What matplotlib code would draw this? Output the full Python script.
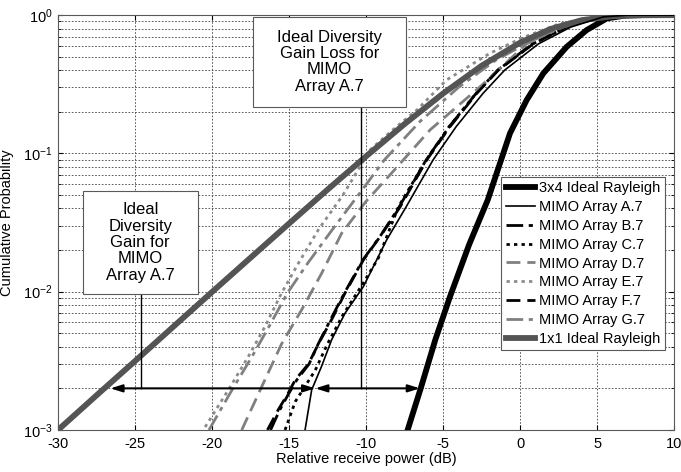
"""CDF of relative receive power for the MIMO arrays against ideal Rayleigh curves."""

import matplotlib

matplotlib.use("Agg")

import matplotlib.pyplot as plt
from matplotlib.patches import Rectangle


# values (x in dB, y as cumulative probability)
RAYLEIGH_1X1_X = [-30, -27.5, -25, -22.5, -20, -17.5, -15, -12.5, -10, -7.5, -5, -2.5, 0, 2, 4, 6, 8, 10]
RAYLEIGH_1X1_P = [0.0010, 0.00178, 0.00315, 0.0056, 0.00995, 0.0176, 0.0311, 0.0547, 0.0952,
                  0.163, 0.271, 0.430, 0.632, 0.795, 0.919, 0.981, 0.998, 1.0]

RAYLEIGH_3X4_X = [-7.3, -6.45, -5.5, -4.55, -3.3, -2.1, -0.65, 0.43, 1.51, 3.03, 4.33, 5.63, 6.9, 8, 10]
RAYLEIGH_3X4_P = [0.001, 0.002, 0.0045, 0.0092, 0.022, 0.046, 0.14, 0.243, 0.379, 0.59, 0.78,
                  0.946, 0.995, 1.0, 1.0]

A7_X = [-13.96, -13.53, -12.88, -12.23, -11.36, -10.17, -8.66, -7.4, -5.65, -4.15, -2.4, -1.0,
        1.2, 3.3, 5.4, 7.0, 10]
A7_P = [0.001, 0.00195, 0.0029, 0.0045, 0.007, 0.0109, 0.0237, 0.041, 0.0896, 0.156, 0.272,
        0.40, 0.62, 0.82, 0.97, 1.0, 1.0]

B7_X = [-16.2, -15.6, -15.0, -14.5, -13.7, -13.1, -12.3, -11.4, -10.2, -9.1, -7.85, -6.1, -4.6,
        -2.85, -1.45, 0.8, 3.0, 5.15, 7.0, 10]
B7_P = [0.001, 0.0014, 0.00185, 0.0023, 0.003, 0.0042, 0.0063, 0.0098, 0.017, 0.025, 0.041,
        0.0896, 0.156, 0.272, 0.40, 0.62, 0.82, 0.97, 1.0, 1.0]

C7_X = [-15.26, -14.6, -13.3, -12.5, -11.5, -10.3, -9.2, -7.9, -6.1, -4.6, -2.85, -1.45, 0.85,
        3.0, 5.2, 7.0, 10]
C7_P = [0.001, 0.0016, 0.0027, 0.0042, 0.0068, 0.011, 0.0175, 0.041, 0.0896, 0.156, 0.272,
        0.40, 0.62, 0.82, 0.97, 1.0, 1.0]

D7_X = [-18.07, -16.77, -15.48, -14.18, -12.88, -11.58, -10, -8.2, -5.84, -2.6, 0.43, 3, 5, 7, 10]
D7_P = [0.001, 0.00206, 0.0042, 0.0074, 0.0136, 0.0265, 0.045, 0.075, 0.148, 0.303, 0.62,
        0.85, 0.96, 1.0, 1.0]

E7_X = [-20.45, -18.94, -17.64, -16.56, -15.48, -14.4, -13.1, -11.5, -9.74, -8.2, -6.7, -4.77,
        -1.95, 0.21, 2.5, 4.5, 7, 10]
E7_P = [0.00105, 0.00195, 0.0034, 0.0056, 0.0098, 0.016, 0.028, 0.05, 0.106, 0.15, 0.206, 0.34,
        0.53, 0.69, 0.86, 0.96, 1.0, 1.0]

F7_X = [-16.4, -15.7, -15.05, -14.6, -13.74, -13.09, -12.23, -11.36, -10.17, -9.09, -7.79,
        -6.06, -4.55, -2.81, -1.41, 0.86, 3.03, 5.19, 7.0, 10]
F7_P = [0.001, 0.0014, 0.00185, 0.0023, 0.003, 0.0042, 0.0063, 0.0098, 0.017, 0.025, 0.041,
        0.0896, 0.156, 0.272, 0.40, 0.62, 0.82, 0.97, 1.0, 1.0]

G7_X = [-20.2, -18.7, -17.4, -16.3, -15.1, -13.8, -12.2, -10.5, -8.8, -6.5, -4.0, -1.6, 0.6,
        2.8, 5, 7, 10]
G7_P = [0.001, 0.00195, 0.0034, 0.0056, 0.0098, 0.016, 0.028, 0.05, 0.09, 0.17, 0.30, 0.47,
        0.64, 0.82, 0.95, 1.0, 1.0]

X_TICKS = [-30, -25, -20, -15, -10, -5, 0, 5, 10]
Y_TICKS = [1e-3, 1e-2, 1e-1, 1e0]
Y_TICK_LABELS = ["$10^{-3}$", "$10^{-2}$", "$10^{-1}$", "$10^{0}$"]

# annotation geometry (dB / probability)
ARROW_LEVEL = 2e-3
GAIN_ARROW = (-26.6, -13.3)
LOSS_ARROW = (-13.3, -6.5)
GAIN_MARKER_X = -24.6
LOSS_MARKER_X = -10.3
GAIN_MARKER_TOP = 0.0096
LOSS_MARKER_TOP = 0.217


def main():
    plt.rcParams["font.family"] = ["Liberation Sans", "DejaVu Sans"]
    plt.rcParams["mathtext.default"] = "regular"
    plt.rcParams["axes.unicode_minus"] = False

    fig = plt.figure(figsize=(6.81, 4.72), dpi=100)
    ax = fig.add_axes([0.0852, 0.089, 0.9046, 0.879])

    grid_style = dict(color="0.25", linestyle=(0, (2, 2)), linewidth=0.6)
    ax.grid(True, which="major", axis="both", **grid_style)
    ax.grid(True, which="minor", axis="y", **grid_style)

    dash = dict(linewidth=2.0)
    ax.plot(RAYLEIGH_3X4_X, RAYLEIGH_3X4_P, color="black", linewidth=4.2,
            label="3x4 Ideal Rayleigh", zorder=3)
    ax.plot(A7_X, A7_P, color="black", linewidth=1.2, label="MIMO Array A.7", zorder=4)
    ax.plot(B7_X, B7_P, color="black", linestyle=(0, (6, 2, 1.5, 2)), label="MIMO Array B.7", **dash)
    ax.plot(C7_X, C7_P, color="black", linestyle=(0, (1.2, 1.5)), label="MIMO Array C.7", **dash)
    ax.plot(D7_X, D7_P, color="0.5", linestyle=(0, (5, 2.5)), label="MIMO Array D.7", **dash)
    ax.plot(E7_X, E7_P, color="0.55", linestyle=(0, (1.2, 1.5)), label="MIMO Array E.7", **dash)
    ax.plot(F7_X, F7_P, color="black", linestyle=(0, (5, 2.5)), label="MIMO Array F.7", **dash)
    ax.plot(G7_X, G7_P, color="0.5", linestyle=(0, (6, 2, 1.5, 2)), label="MIMO Array G.7", **dash)
    ax.plot(RAYLEIGH_1X1_X, RAYLEIGH_1X1_P, color="0.33", linewidth=4.2,
            label="1x1 Ideal Rayleigh", zorder=3)

    ax.set_yscale("log")
    ax.set_xlim(-30, 10)
    ax.set_ylim(1e-3, 1)
    ax.set_xticks(X_TICKS)
    ax.set_xticklabels([str(t) for t in X_TICKS])
    ax.set_yticks(Y_TICKS)
    ax.set_yticklabels(Y_TICK_LABELS)
    ax.tick_params(which="both", direction="in", top=True, right=True, labelsize=10.5)
    ax.tick_params(axis="x", pad=5)
    ax.tick_params(axis="y", pad=4)
    ax.tick_params(which="minor", length=2.5)
    ax.tick_params(axis="y", which="minor", labelleft=False)
    for spine in ax.spines.values():
        spine.set_color("0.35")

    ax.set_xlabel("Relative receive power (dB)", fontsize=10.5, labelpad=1)
    ax.set_ylabel("Cumulative Probability", fontsize=10.5, labelpad=6)

    arrow_props = dict(arrowstyle="<|-|>,head_length=0.7,head_width=0.22", color="black",
                       linewidth=1.5, shrinkA=0, shrinkB=0)
    for start, end in (GAIN_ARROW, LOSS_ARROW):
        ax.annotate("", xy=(end, ARROW_LEVEL), xytext=(start, ARROW_LEVEL),
                    arrowprops=arrow_props, zorder=6)
    ax.plot([GAIN_MARKER_X, GAIN_MARKER_X], [ARROW_LEVEL, GAIN_MARKER_TOP], color="black",
            linewidth=1.0, zorder=6)
    ax.plot([LOSS_MARKER_X, LOSS_MARKER_X], [ARROW_LEVEL, LOSS_MARKER_TOP], color="black",
            linewidth=1.0, zorder=6)

    note_box(ax, (0.040, 0.328, 0.187, 0.248), "Ideal\nDiversity\nGain for\nMIMO\nArray A.7")
    note_box(ax, (0.316, 0.779, 0.249, 0.217), "Ideal Diversity\nGain Loss for\nMIMO\nArray A.7")

    legend = ax.legend(loc="upper right", bbox_to_anchor=(0.985, 0.61), fontsize=10.5,
                       frameon=True, fancybox=False, edgecolor="0.35", framealpha=1,
                       borderpad=0.3, labelspacing=0.33, handlelength=2.0, handletextpad=0.3,
                       borderaxespad=0)
    legend.get_frame().set_linewidth(0.8)
    legend.set_zorder(10)

    fig.savefig("out.png", dpi=100)
    plt.close(fig)


def note_box(ax, rect, text):
    x0, y0, width, height = rect
    ax.add_patch(Rectangle((x0, y0), width, height, transform=ax.transAxes, facecolor="white",
                           edgecolor="0.35", linewidth=0.8, zorder=7))
    ax.text(x0 + width / 2, y0 + height / 2, text, transform=ax.transAxes, ha="center",
            va="center", fontsize=12, linespacing=1.12, zorder=8)


if __name__ == "__main__":
    main()
